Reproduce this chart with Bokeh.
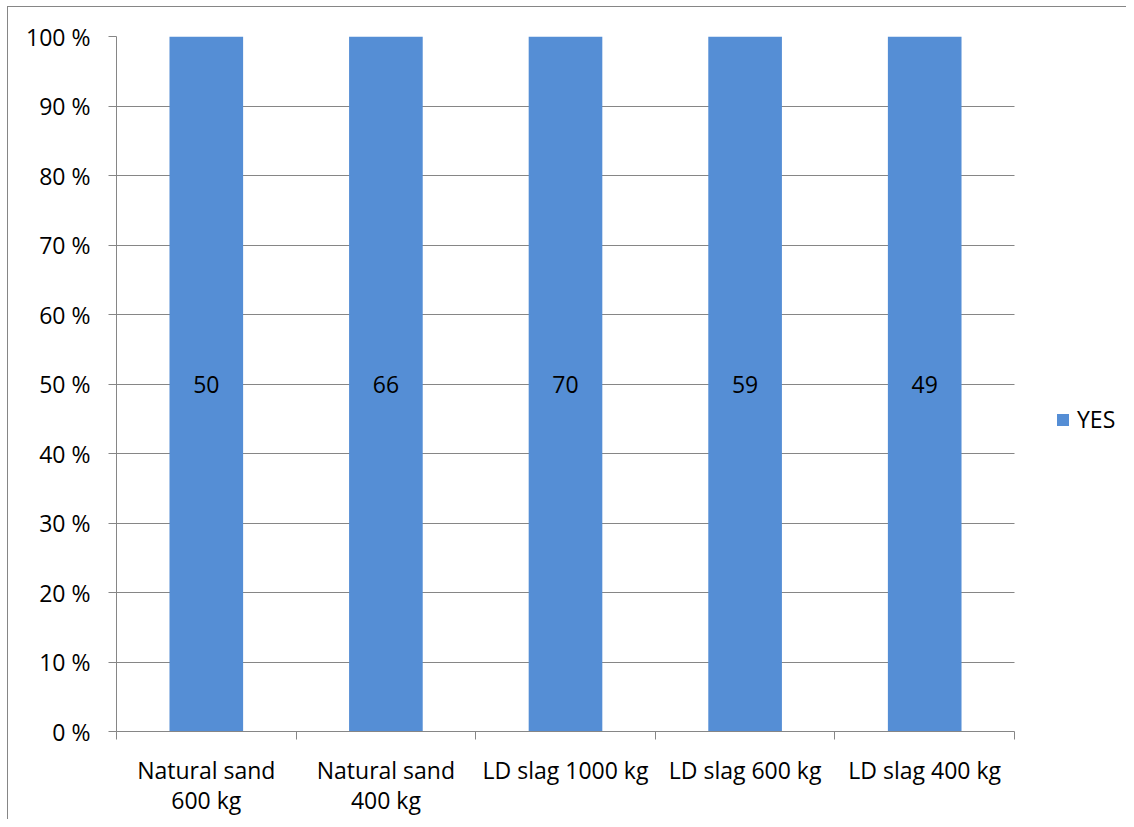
from bokeh.plotting import figure
from bokeh.models import (ColumnDataSource, FixedTicker, PrintfTickFormatter, Legend,
                          LegendItem, LabelSet, Range1d)
from bokeh.core.properties import value
from bokeh.embed import file_html
from bokeh.resources import INLINE

# ---- data ----
categories = ["Natural sand\n600 kg", "Natural sand\n400 kg", "LD slag 1000 kg",
              "LD slag 600 kg", "LD slag 400 kg"]
yes_counts = [50, 66, 70, 59, 49]
series_name = "YES"
y_ticks = [0, 10, 20, 30, 40, 50, 60, 70, 80, 90, 100]

# 100 % stacked: only one series, so each share is its own total
totals = list(yes_counts)
pct = [100.0 * v / t for v, t in zip(yes_counts, totals)]
n = len(categories)
xs = [i + 0.5 for i in range(n)]
bounds = list(range(n + 1))

src = ColumnDataSource(dict(
    x=xs, pct=pct, mid=[p / 2 for p in pct], lab=[str(v) for v in yes_counts]))

FONT = "Open Sans"
FS = "23px"
GRAY = "#868686"
BLUE = "#558ED5"

W, H = 1126, 819
LEFT, TOP, BOTTOM = 116, 36, 84
CAT_RIGHT = 1014          # pixel where the category area ends
# frame runs to the right edge so the legend fits inside it;
# the data area (categories) ends at CAT_RIGHT
x_end = n * (W - LEFT) / (CAT_RIGHT - LEFT)

p = figure(width=W, height=H, output_backend="svg", toolbar_location=None,
           x_range=Range1d(0, x_end), y_range=Range1d(0, 100),
           min_border_left=LEFT, min_border_right=0, min_border_top=TOP,
           min_border_bottom=BOTTOM)
p.outline_line_color = None
p.background_fill_color = "white"
p.border_fill_alpha = 0
p.styles = {
    "background": ("linear-gradient(#868686,#868686) 7px 6px / 1px 100% no-repeat, "
                   "linear-gradient(#868686,#868686) 7px 6px / 100% 1px no-repeat, white"),
}

r = p.vbar(x="x", top="pct", bottom=0, width=0.41, source=src,
           fill_color=BLUE, line_color=None)

# grid
p.xgrid.visible = False
p.ygrid.ticker = FixedTicker(ticks=y_ticks)
p.ygrid.grid_line_color = GRAY
p.ygrid.grid_line_width = 1
p.ygrid.level = "underlay"
try:
    p.ygrid.cross_bounds = (0, n)
except Exception:
    p.ygrid.visible = False
    p.segment(x0=0, x1=n, y0=y_ticks, y1=y_ticks, line_color=GRAY, line_width=1,
              level="underlay")

# y axis
ya = p.yaxis[0]
ya.ticker = FixedTicker(ticks=y_ticks)
ya.formatter = PrintfTickFormatter(format="%d %%")
ya.axis_line_color = GRAY
ya.major_tick_line_color = GRAY
ya.major_tick_out = 8
ya.major_tick_in = 0
ya.minor_tick_line_color = None
ya.major_label_text_font = FONT
ya.major_label_text_font_size = FS
ya.major_label_text_color = "black"
ya.major_label_standoff = 18

# x axis
xa = p.xaxis[0]
xa.bounds = (0, n)
xa.ticker = FixedTicker(ticks=xs, minor_ticks=bounds)
xa.major_label_overrides = {x: c for x, c in zip(xs, categories)}
xa.axis_line_color = GRAY
xa.major_tick_line_color = None
xa.minor_tick_line_color = GRAY
xa.minor_tick_out = 8
xa.minor_tick_in = 0
xa.major_label_text_font = FONT
xa.major_label_text_font_size = FS
xa.major_label_text_color = "black"
xa.major_label_text_line_height = 0.96
xa.major_label_standoff = 14

# data labels
labels = LabelSet(x="x", y="mid", text="lab", source=src, text_align="center",
                  text_baseline="middle", text_font=value(FONT), text_font_size=value(FS),
                  text_color="black")
p.add_layout(labels)

legend = Legend(items=[LegendItem(label=series_name, renderers=[r])],
                location=(939, 296), border_line_color=None,
                background_fill_alpha=0, padding=0, margin=0,
                glyph_width=15, glyph_height=15, label_standoff=7,
                label_text_font=FONT, label_text_font_size=FS,
                label_text_color="black")
p.add_layout(legend)

open("out.html", "w").write(file_html(p, INLINE))
